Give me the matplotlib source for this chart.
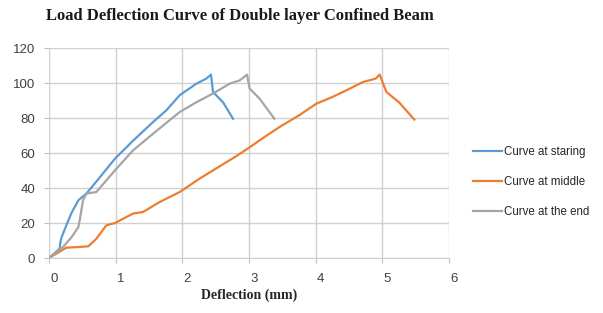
import matplotlib
matplotlib.use("Agg")
import matplotlib.pyplot as plt
from matplotlib.transforms import ScaledTranslation

# Data
staring_x = [0, 0.16, 0.17, 0.19, 0.26, 0.34, 0.44, 0.56, 0.76, 0.99, 1.26, 1.56, 1.76, 1.96, 2.21, 2.36, 2.43, 2.46, 2.61, 2.76]
staring_y = [0, 5.4, 9, 12, 18.7, 26, 33, 36.8, 46, 56.8, 67, 77.7, 84.4, 93, 99.6, 102.5, 104.8, 94.9, 89, 79.6]

middle_x = [0, 0.26, 0.45, 0.59, 0.71, 0.86, 0.99, 1.26, 1.41, 1.66, 1.96, 2.26, 2.5, 2.8, 3.0, 3.16, 3.46, 3.75, 4.01, 4.25, 4.46, 4.71, 4.9, 4.96, 5.06, 5.25, 5.48]
middle_y = [0, 5.9, 6.3, 6.7, 11, 18.7, 20, 25.4, 26.3, 32, 37.7, 45.4, 51, 58, 63, 67.3, 74.9, 81.5, 88.2, 92, 95.8, 100.6, 102.5, 104.8, 94.9, 89, 79.1]

end_x = [0, 0.21, 0.34, 0.44, 0.46, 0.48, 0.51, 0.56, 0.71, 0.86, 1.01, 1.26, 1.56, 1.96, 2.21, 2.46, 2.71, 2.86, 2.97, 3.01, 3.16, 3.38]
end_y = [0, 6.3, 12, 17.7, 21.5, 26, 33, 36.8, 37.7, 44.4, 51, 61.5, 71, 83.4, 89, 94, 99.6, 101.5, 104.8, 96.8, 91, 79.6]

labels = ["Curve at staring", "Curve at middle", "Curve at the end"]
colors = ["#5B9BD5", "#ED7D31", "#A5A5A5"]
x_ticks = [0, 1, 2, 3, 4, 5, 6]
y_ticks = [0, 20, 40, 60, 80, 100, 120]

fig = plt.figure(figsize=(6.03, 3.13), dpi=100)
ax = fig.add_axes([0.0813, 0.1757, 0.6633, 0.6709])

for xs, ys, lab, c in zip([staring_x, middle_x, end_x], [staring_y, middle_y, end_y], labels, colors):
    ax.plot(xs, ys, color=c, lw=1.6, label=lab)

ax.set_xlim(0, 6)
ax.set_ylim(0, 120)
ax.set_xticks(x_ticks)
ax.set_yticks(y_ticks)
ax.grid(True, color="#D0D0D0", lw=1.0)
ax.set_axisbelow(True)
for s in ["top", "right", "left"]:
    ax.spines[s].set_visible(False)
ax.spines["bottom"].set_color("#D0D0D0")
ax.tick_params(axis="both", colors="#BFBFBF", labelcolor="#404040", labelsize=9.5, length=3.6)
ax.tick_params(axis="x", pad=7)
ax.tick_params(axis="y", pad=6.5)
for lbl in ax.get_xticklabels() + ax.get_yticklabels():
    lbl.set_family("Liberation Sans")
for lbl in ax.get_xticklabels():
    lbl.set_transform(lbl.get_transform() + ScaledTranslation(5 / 100, 0, fig.dpi_scale_trans))

ax.set_xlabel("Deflection (mm)", family="Liberation Serif", fontweight="bold", fontsize=10, color="#262626", labelpad=3)
fig.text(0.398, 0.949, "Load Deflection Curve of Double layer Confined Beam", family="Liberation Serif",
         fontweight="bold", fontsize=12, ha="center", va="center", color="#1a1a1a")

leg = ax.legend(loc="center left", bbox_to_anchor=(1.06, 0.362), frameon=False,
                prop={"family": "Liberation Sans", "size": 8.3},
                handlelength=2.5, handletextpad=0.15, labelspacing=1.55, borderaxespad=0, borderpad=0)
for t in leg.get_texts():
    t.set_color("#262626")

fig.savefig("out.png", dpi=100)
